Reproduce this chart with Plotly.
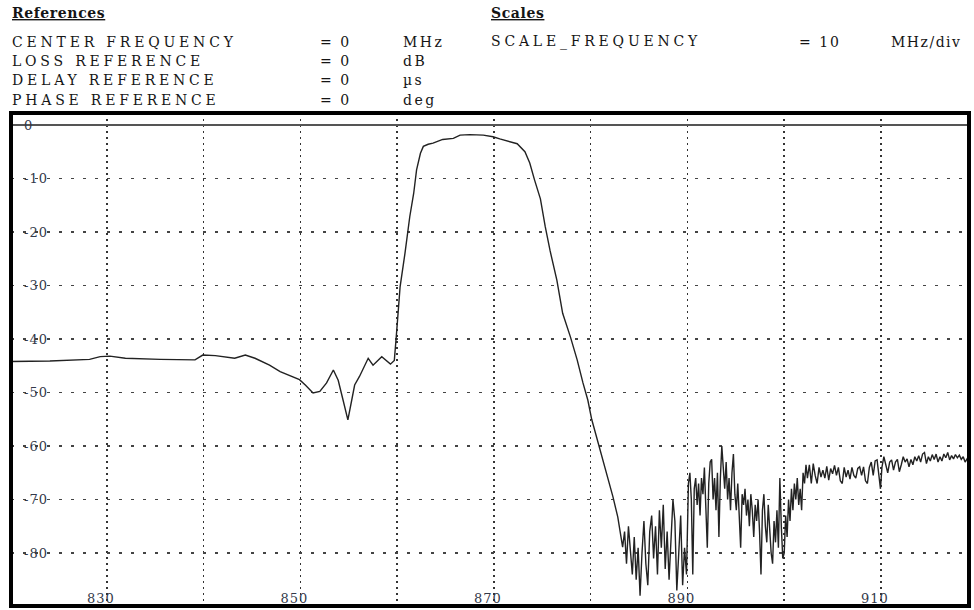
import plotly.graph_objects as go

# ---------------- data ----------------
freq_smooth = [820.0, 824.1, 828.2, 829.3, 830.3, 831.9, 835.5, 839.1, 839.9, 841.2,
               843.2, 844.3, 845.3, 846.8, 847.9, 848.9, 849.9, 850.5, 851.3, 852.0,
               852.7, 853.4, 853.9, 854.4, 854.9, 855.3, 855.6, 856.1, 857.0, 857.5,
               858.4, 859.3, 859.7, 859.9, 860.1, 860.3, 860.8, 861.3, 861.7, 862.0,
               862.4, 862.7, 863.2, 863.7, 864.7, 865.8, 866.5, 867.5, 868.9, 869.9,
               870.6, 871.3, 872.4, 873.2, 873.7, 874.2, 874.8, 875.3, 875.8, 876.5,
               877.1, 877.9, 878.6, 879.2, 879.7, 880.1, 880.4, 881.0, 881.5, 882.3,
               882.8, 883.3]
loss_smooth = [-44.2, -44.1, -43.8, -43.3, -43.2, -43.6, -43.8, -43.9, -43.0, -43.1,
               -43.6, -43.0, -43.6, -44.9, -46.1, -46.8, -47.6, -48.6, -50.1, -49.8,
               -48.2, -45.8, -47.7, -51.4, -55.1, -51.4, -48.6, -47.0, -43.6, -44.9,
               -43.3, -44.7, -44.0, -39.6, -35.2, -30.2, -24.0, -17.1, -12.8, -8.4,
               -5.3, -4.0, -3.6, -3.4, -2.7, -2.5, -1.9, -1.8, -1.9, -2.2,
               -2.6, -2.9, -3.5, -5.0, -7.1, -10.3, -13.8, -19.0, -23.5, -29.0,
               -35.2, -39.6, -43.9, -48.2, -51.4, -55.0, -57.0, -60.5, -64.0, -69.5,
               -73.3, -78.9]

freq_floor = [883.5, 883.7, 883.9, 884.1, 884.3, 884.5, 884.7, 884.9, 885.1, 885.3,
              885.5, 885.7, 885.9, 886.1, 886.3, 886.5, 886.7, 886.9, 887.1, 887.3,
              887.5, 887.7, 887.9, 888.1, 888.3, 888.5, 888.7, 888.9, 889.1, 889.3,
              889.5, 889.7, 889.9]
loss_floor = [-76, -82, -75, -80, -84, -77, -85, -79, -88, -80,
              -74, -82, -86, -76, -73, -81, -75, -84, -72, -79,
              -71, -83, -76, -85, -78, -70, -74, -87, -80, -73,
              -86, -79, -84]

freq_mid = [890.1, 890.25, 890.4, 890.55, 890.7, 890.85, 891.0, 891.15, 891.3, 891.45,
            891.6, 891.75, 891.9, 892.05, 892.2, 892.35, 892.5, 892.65, 892.8, 892.95,
            893.1, 893.25, 893.4, 893.55, 893.7, 893.85, 894.0, 894.15, 894.3, 894.45,
            894.6, 894.75, 894.9, 895.05, 895.2, 895.35, 895.5, 895.65, 895.8, 895.95,
            896.1, 896.25, 896.4, 896.55, 896.7, 896.85, 897.0, 897.15, 897.3, 897.45,
            897.6, 897.75, 897.9, 898.05, 898.2, 898.35, 898.5, 898.65, 898.8, 898.95,
            899.1, 899.25, 899.4, 899.55, 899.7, 899.85, 900.0, 900.15, 900.3, 900.45,
            900.6, 900.75, 900.9, 901.05, 901.2, 901.35, 901.5, 901.65, 901.8, 901.95,
            902.1, 902.25]
loss_mid = [-67, -65, -70, -84, -68, -66, -71, -67, -73, -66,
            -69, -64, -70, -79, -67, -63, -62.5, -70, -66, -72,
            -65, -77, -66, -60, -64, -68, -63, -70, -66, -72,
            -65, -61.5, -69, -72, -67, -74, -79, -69, -71, -68,
            -73, -70, -75, -69, -72, -77, -71, -74, -70, -76,
            -84, -72, -69, -75, -78, -71, -76, -80, -82, -74,
            -78, -72, -79, -66, -75, -81, -80, -73, -77, -70,
            -74, -68, -72, -67, -70, -66, -71, -68, -72, -65,
            -67, -63.5]

freq_high = [902.4, 902.6, 902.8, 903.0, 903.2, 903.4, 903.6, 903.8, 904.0, 904.2,
             904.4, 904.6, 904.8, 905.0, 905.2, 905.4, 905.6, 905.8, 906.0, 906.2,
             906.4, 906.6, 906.8, 907.0, 907.2, 907.4, 907.6, 907.8, 908.0, 908.2,
             908.4, 908.6, 908.8, 909.0, 909.2, 909.4, 909.6, 909.8, 909.95, 910.1,
             910.3, 910.5, 910.7, 910.9, 911.1, 911.3, 911.5, 911.7, 911.9, 912.1,
             912.3, 912.5, 912.7, 912.9, 913.1, 913.3, 913.5, 913.7, 913.9, 914.1,
             914.3, 914.5, 914.7, 914.9, 915.1, 915.3, 915.5, 915.7, 915.9, 916.1,
             916.3, 916.5, 916.7, 916.9, 917.1, 917.3, 917.5, 917.7, 917.9, 918.1,
             918.3, 918.5, 918.7, 918.9, 919.1]
loss_high = [-66, -63.5, -67, -63.3, -65.5, -67, -64, -65.8, -64.5, -66,
             -63.8, -66.4, -64.2, -65.2, -63.6, -65.5, -64, -66.5, -67, -64,
             -65.8, -64.5, -66.2, -64, -65.5, -66, -64.2, -63.9, -65.5, -63.9,
             -66.5, -67, -64, -63, -65.5, -62.8, -62.6, -66, -68, -64,
             -62, -63.5, -65, -63, -62.6, -64.5, -63, -62.5, -64.8, -63.5,
             -62, -63, -62.4, -63.9, -62.5, -63.5, -62, -62.8, -61.8, -63,
             -61.5, -61.2, -63.3, -62, -62.8, -61.6, -62.5, -61.5, -63, -62,
             -62.8, -61.5, -62.2, -61.2, -62.6, -61.8, -62.4, -61.6, -62.2, -61.7,
             -62.5, -62, -63, -62.4, -62.7]

freq = freq_smooth + freq_floor + freq_mid + freq_high
loss = loss_smooth + loss_floor + loss_mid + loss_high

x_ticks = [830, 840, 850, 860, 870, 880, 890, 900, 910]
x_labels = ["830", "", "850", "", "870", "", "890", "", "910"]
y_ticks = [0, -10, -20, -30, -40, -50, -60, -70, -80]
y_labels = ["0", "-10", "-20", "-30", "-40", "-50", "-60", "-70", "-80"]

header_left = [("CENTER FREQUENCY", "= 0", "MHz"),
               ("LOSS REFERENCE", "= 0", "dB"),
               ("DELAY REFERENCE", "= 0", "µs"),
               ("PHASE REFERENCE", "= 0", "deg")]
header_right = [("SCALE_FREQUENCY", "= 10", "MHz/div")]

# ---------------- figure ----------------
W, H = 974, 610
ML, MR, MT, MB = 11, 5, 113, 4
pw, ph = W - ML - MR, H - MT - MB

fig = go.Figure()
fig.add_trace(go.Scatter(x=freq, y=loss, mode="lines",
                         line=dict(color="#222", width=1.4),
                         hoverinfo="skip", showlegend=False))

SERIF = "DejaVu Serif"
tick_font = dict(family=SERIF, size=13, color="#33394a")


def spaced(t, ls):
    return '<span style="letter-spacing:%spx">%s</span>' % (ls, t)


fig.update_layout(
    width=W, height=H,
    margin=dict(l=ML, r=MR, t=MT, b=MB, pad=0),
    paper_bgcolor="white", plot_bgcolor="white",
    xaxis=dict(range=[820.08, 919.1], tickvals=x_ticks,
               ticktext=[spaced(t, 1) if t else "" for t in x_labels],
               ticklabelposition="inside", ticks="", showline=False,
               ticklabelshift=-6, ticklabelstandoff=-3,
               showgrid=True, gridcolor="#333", gridwidth=1.5, griddash="2px,4px",
               zeroline=False, tickfont=tick_font, fixedrange=True),
    yaxis=dict(range=[-89.9, 2.24], tickvals=y_ticks,
               ticktext=[spaced(t, 1) for t in y_labels],
               ticklabelposition="inside", ticks="", showline=False,
               ticklabelstandoff=10,
               showgrid=True, gridcolor="#444", gridwidth=1.3, griddash="3px,9px",
               zeroline=True, zerolinecolor="#555", zerolinewidth=2,
               tickfont=tick_font, fixedrange=True),
)

# thick frame around the plot area
fig.add_shape(type="rect", xref="paper", yref="paper", x0=0, x1=1, y0=0, y1=1,
              line=dict(color="black", width=4), layer="above")


def py(ypix):
    return 1 + (MT - ypix) / ph


def px(xpix):
    return (xpix - ML) / pw


hfont = dict(family=SERIF, size=14, color="#151515")
LS = 3.8
anns = []
anns.append(dict(text="<b><u>" + spaced("References", 0.6) + "</u></b>", x=px(10), y=py(13)))
anns.append(dict(text="<b><u>" + spaced("Scales", 0.6) + "</u></b>", x=px(489), y=py(13)))
rows_y = [42, 61, 80, 100]
for (name, val, unit), yy in zip(header_left, rows_y):
    anns.append(dict(text=spaced(name, LS), x=px(10), y=py(yy)))
    anns.append(dict(text=spaced(val, 2), x=px(318), y=py(yy)))
    anns.append(dict(text=spaced(unit, 2.5), x=px(401), y=py(yy)))
for (name, val, unit), yy in zip(header_right, rows_y):
    anns.append(dict(text=spaced(name, LS), x=px(489), y=py(yy)))
    anns.append(dict(text=spaced(val, 2), x=px(797), y=py(yy)))
    anns.append(dict(text=spaced(unit, 1.5), x=px(889), y=py(yy)))

for a in anns:
    fig.add_annotation(xref="paper", yref="paper", xanchor="left", yanchor="middle",
                       showarrow=False, font=hfont, **a)

fig.write_html("out.html",
               config={"displayModeBar": False, "staticPlot": True},
               post_script="document.body.style.margin='0';"
                           "document.body.style.overflow='hidden';")
